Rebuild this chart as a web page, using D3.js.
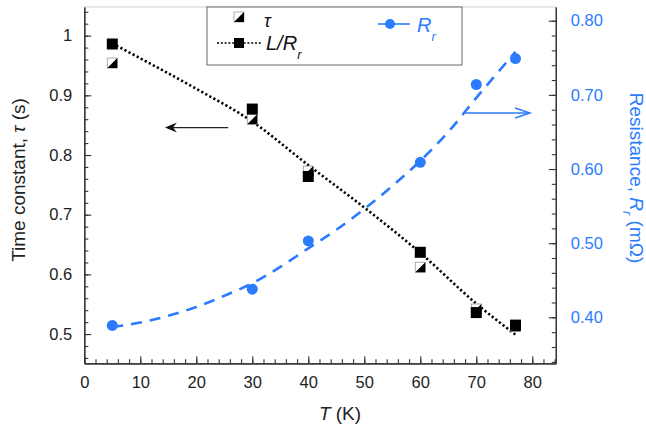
<!DOCTYPE html>
<html>
<head>
<meta charset="utf-8">
<script src="https://cdn.jsdelivr.net/npm/d3@7"></script>
<style>
  html, body { margin: 0; padding: 0; background: #fff; }
  svg { display: block; font-family: "Liberation Sans", Arial, Helvetica, sans-serif; }
</style>
</head>
<body>
<svg id="chart" width="646" height="429"></svg>
<script>
// ---- data ----
const temps = [5, 30, 40, 60, 70, 77];
const tauMeasured = [0.954, 0.860, 0.773, 0.612, 0.542, 0.513];
const tauLR = [0.986, 0.877, 0.764, 0.637, 0.536, 0.515];
const resistance = [0.389, 0.438, 0.503, 0.609, 0.714, 0.749];

// curves
const fitT = [5, 10, 15, 20, 25, 30, 35, 40, 45, 50, 55, 60, 65, 70, 77];
const fitR = [0.387, 0.393, 0.402, 0.414, 0.429, 0.446, 0.468, 0.493, 0.518, 0.546, 0.577, 0.611, 0.650, 0.696, 0.758];
const lrT = [5, 10, 20, 30, 40, 50, 60, 70, 77];
const lrTau = [0.987, 0.962, 0.911, 0.856, 0.783, 0.712, 0.636, 0.551, 0.499];

// tick labels
const xTicks = [0, 10, 20, 30, 40, 50, 60, 70, 80];
const xTickLabels = ["0", "10", "20", "30", "40", "50", "60", "70", "80"];
const leftTicks = [0.5, 0.6, 0.7, 0.8, 0.9, 1.0];
const leftTickLabels = ["0.5", "0.6", "0.7", "0.8", "0.9", "1"];
const rightTicks = [0.4, 0.5, 0.6, 0.7, 0.8];
const rightTickLabels = ["0.40", "0.50", "0.60", "0.70", "0.80"];
const xMinor = d3.range(0, 85, 2);
const leftMinor = d3.range(46, 105, 2).map(d => d / 100);
const rightMinor = d3.range(34, 82, 2).map(d => d / 100);

// annotation arrows (data coordinates)
const arrowLeft = { from: 25.7, to: 14.4, value: 0.846 };
const arrowRight = { from: 68.0, to: 79.6, value: 0.6755 };

const BLUE = "#2b7bff";
const svg = d3.select("#chart");

const x = d3.scaleLinear([0, 84.2], [84.3, 555.8]);
const yL = d3.scaleLinear([0.451, 1.048], [363.3, 7]);
const yR = d3.scaleLinear([0.338, 0.8185], [363.3, 7]);

// top frame line
svg.append("line").attr("x1", x(0)).attr("x2", x(84.2)).attr("y1", 7).attr("y2", 7)
  .attr("stroke", "#d0d0d0").attr("stroke-width", 1);

function styleAxis(g, color) {
  g.select(".domain").attr("stroke", "#333").attr("stroke-width", 1.2);
  g.selectAll(".tick line").attr("stroke", "#333").attr("stroke-width", 1.1);
  g.selectAll(".tick text").attr("fill", color).attr("font-size", "16.5px")
    .attr("font-family", "'Liberation Sans', Arial, sans-serif");
}

// minor ticks
const gxm = svg.append("g").attr("transform", `translate(0,${yL(0.451)})`)
  .call(d3.axisBottom(x).tickValues(xMinor).tickSize(-4).tickSizeOuter(0).tickFormat(""));
styleAxis(gxm, "#222");
const glm = svg.append("g").attr("transform", `translate(${x(0)},0)`)
  .call(d3.axisLeft(yL).tickValues(leftMinor).tickSize(-4).tickSizeOuter(0).tickFormat(""));
styleAxis(glm, "#222");
const grm = svg.append("g").attr("transform", `translate(${x(84.2)},0)`)
  .call(d3.axisRight(yR).tickValues(rightMinor).tickSize(-4).tickSizeOuter(0).tickFormat(""));
styleAxis(grm, BLUE);

// major axes
const gx = svg.append("g").attr("transform", `translate(0,${yL(0.451)})`)
  .call(d3.axisBottom(x).tickValues(xTicks).tickSize(-7).tickSizeOuter(0).tickPadding(13)
    .tickFormat((d, i) => xTickLabels[i]));
styleAxis(gx, "#222");
const gl = svg.append("g").attr("transform", `translate(${x(0)},0)`)
  .call(d3.axisLeft(yL).tickValues(leftTicks).tickSize(-7).tickSizeOuter(0).tickPadding(12)
    .tickFormat((d, i) => leftTickLabels[i]));
styleAxis(gl, "#222");
const gr = svg.append("g").attr("transform", `translate(${x(84.2)},0)`)
  .call(d3.axisRight(yR).tickValues(rightTicks).tickSize(-7).tickSizeOuter(0).tickPadding(15)
    .tickFormat((d, i) => rightTickLabels[i]));
styleAxis(gr, BLUE);

// axis titles
const tl = svg.append("text").attr("transform", "translate(25,180) rotate(-90)")
  .attr("text-anchor", "middle").attr("font-size", "19px").attr("fill", "#222");
tl.append("tspan").text("Time constant,  ");
tl.append("tspan").attr("font-style", "italic").text("τ");
tl.append("tspan").text(" (s)");

const tb = svg.append("text").attr("x", 340).attr("y", 420).attr("text-anchor", "middle")
  .attr("font-size", "19px").attr("fill", "#222");
tb.append("tspan").attr("font-style", "italic").text("T");
tb.append("tspan").text(" (K)");

const tr = svg.append("text").attr("transform", "translate(630,178) rotate(90)")
  .attr("text-anchor", "middle").attr("font-size", "19px").attr("fill", BLUE);
tr.append("tspan").text("Resistance, ");
tr.append("tspan").attr("font-style", "italic").text("R");
tr.append("tspan").attr("font-style", "italic").attr("font-size", "13px").attr("dy", 7).text("r");
tr.append("tspan").attr("dy", -7).text(" (mΩ)");

// curves
const lrData = lrT.map((t, i) => [t, lrTau[i]]);
svg.append("path").datum(lrData)
  .attr("d", d3.line().x(d => x(d[0])).y(d => yL(d[1])).curve(d3.curveMonotoneX))
  .attr("fill", "none").attr("stroke", "#000").attr("stroke-width", 2.6)
  .attr("stroke-dasharray", "2.2,2.4");

const fitData = fitT.map((t, i) => [t, fitR[i]]);
svg.append("path").datum(fitData)
  .attr("d", d3.line().x(d => x(d[0])).y(d => yR(d[1])).curve(d3.curveMonotoneX))
  .attr("fill", "none").attr("stroke", BLUE).attr("stroke-width", 2.6)
  .attr("stroke-dasharray", "11,8");

// markers
function halfSquare(g, cx, cy, s) {
  const h = s / 2;
  g.append("rect").attr("x", cx - h).attr("y", cy - h).attr("width", s).attr("height", s)
    .attr("fill", "#fff").attr("stroke", "#999").attr("stroke-width", 0.8);
  g.append("path").attr("d", `M${cx - h},${cy + h}L${cx + h},${cy - h}L${cx + h},${cy + h}Z`)
    .attr("fill", "#000");
}
const gHalf = svg.append("g");
temps.forEach((t, i) => halfSquare(gHalf, x(t), yL(tauMeasured[i]), 10));

svg.append("g").selectAll("rect").data(temps).join("rect")
  .attr("x", (d) => x(d) - 5.5).attr("y", (d, i) => yL(tauLR[i]) - 5.5)
  .attr("width", 11).attr("height", 11).attr("fill", "#000");

svg.append("g").selectAll("circle").data(temps).join("circle")
  .attr("cx", d => x(d)).attr("cy", (d, i) => yR(resistance[i])).attr("r", 5.5)
  .attr("fill", BLUE);

// arrows
{
  const y0 = yL(arrowLeft.value), x0 = x(arrowLeft.from), x1 = x(arrowLeft.to);
  svg.append("line").attr("x1", x0).attr("x2", x1 + 4).attr("y1", y0).attr("y2", y0)
    .attr("stroke", "#222").attr("stroke-width", 1.3);
  svg.append("path")
    .attr("d", `M${x1},${y0}L${x1 + 12},${y0 - 5}L${x1 + 8},${y0}L${x1 + 12},${y0 + 5}Z`)
    .attr("fill", "#111");
}
{
  const y0 = yR(arrowRight.value), x0 = x(arrowRight.from), x1 = x(arrowRight.to);
  svg.append("line").attr("x1", x0).attr("x2", x1).attr("y1", y0).attr("y2", y0)
    .attr("stroke", BLUE).attr("stroke-width", 1.4);
  svg.append("path")
    .attr("d", `M${x1 - 15},${y0 - 5}L${x1},${y0}L${x1 - 15},${y0 + 5}`)
    .attr("fill", "none").attr("stroke", BLUE).attr("stroke-width", 1.4);
}

// legend
const lg = svg.append("g");
lg.append("rect").attr("x", 207).attr("y", 7).attr("width", 255).attr("height", 58)
  .attr("fill", "#fff").attr("stroke", "#666").attr("stroke-width", 1);
halfSquare(lg, 239, 17, 10);
lg.append("text").attr("x", 264).attr("y", 27).attr("font-size", "18px")
  .attr("font-style", "italic").attr("fill", "#111").text("τ");
lg.append("line").attr("x1", 217).attr("x2", 261).attr("y1", 43).attr("y2", 43)
  .attr("stroke", "#000").attr("stroke-width", 1.6).attr("stroke-dasharray", "2,1.8");
lg.append("rect").attr("x", 234).attr("y", 38).attr("width", 10).attr("height", 10).attr("fill", "#000");
const lt = lg.append("text").attr("x", 266).attr("y", 50).attr("font-size", "20px")
  .attr("font-style", "italic").attr("fill", "#111");
lt.append("tspan").text("L/R");
lt.append("tspan").attr("font-size", "13px").attr("dy", 9).text("r");

lg.append("line").attr("x1", 378).attr("x2", 410).attr("y1", 24).attr("y2", 24)
  .attr("stroke", BLUE).attr("stroke-width", 1.6);
lg.append("circle").attr("cx", 390).attr("cy", 24).attr("r", 5).attr("fill", BLUE);
const rt = lg.append("text").attr("x", 417).attr("y", 32).attr("font-size", "20px")
  .attr("font-style", "italic").attr("fill", BLUE);
rt.append("tspan").text("R");
rt.append("tspan").attr("font-size", "13px").attr("dy", 9).text("r");
</script>
</body>
</html>
